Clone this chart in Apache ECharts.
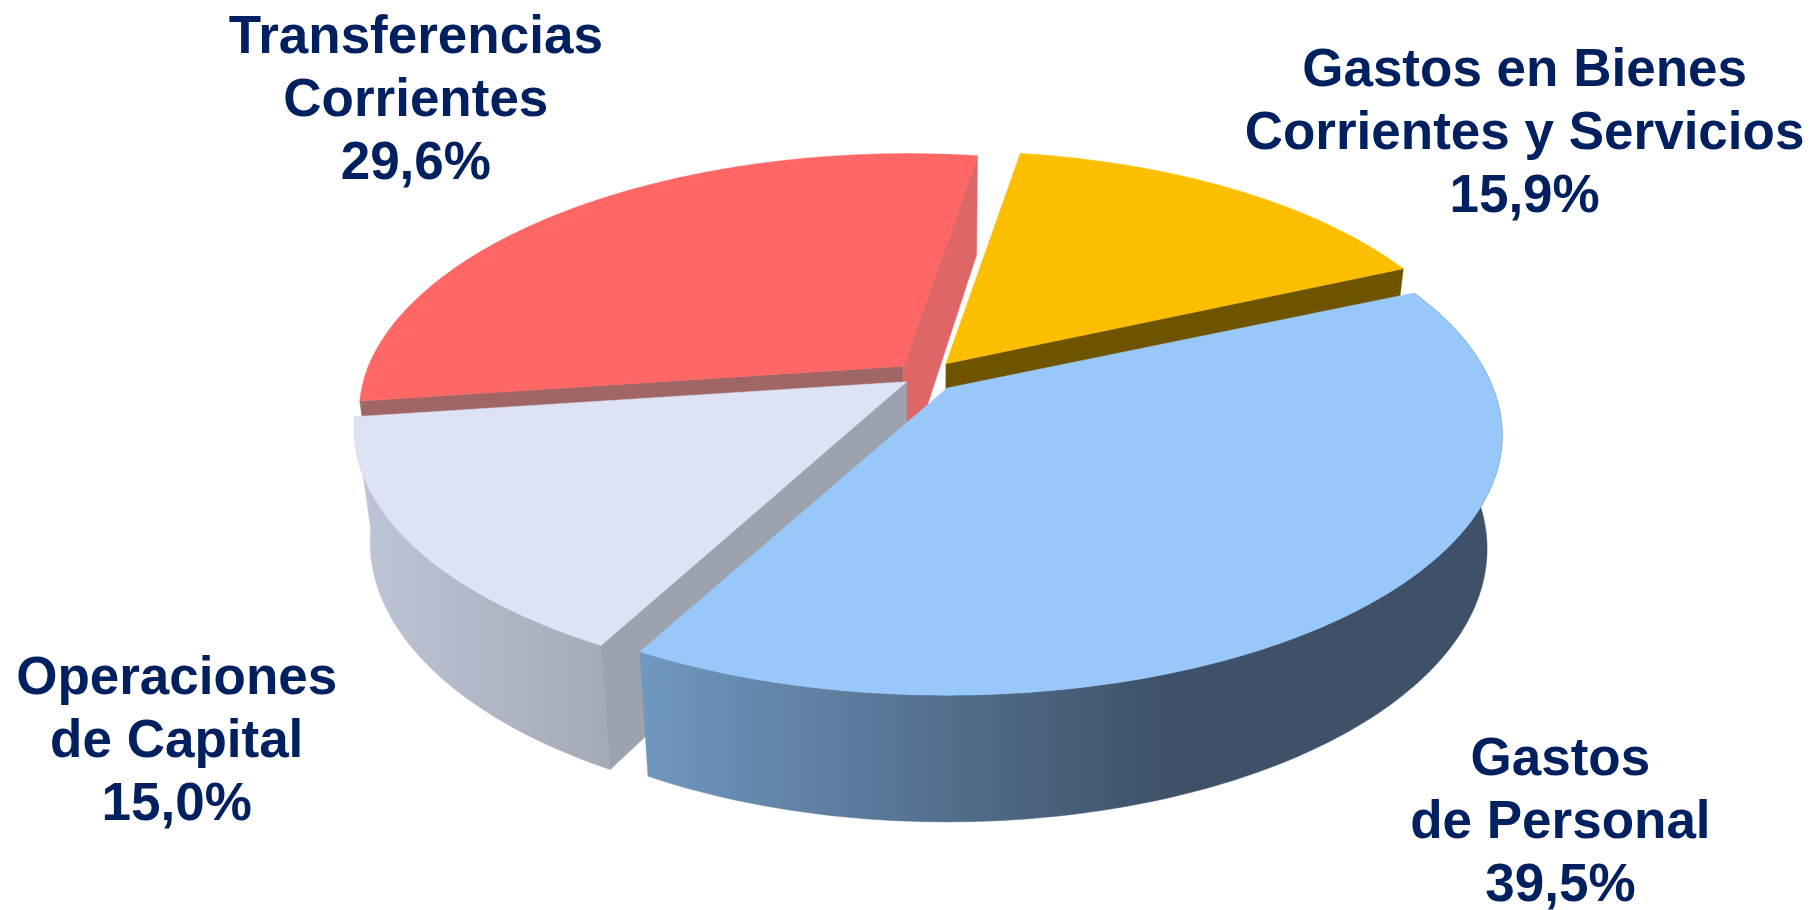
<!DOCTYPE html>
<html>
<head>
    <meta charset="utf-8">
    <title>Gastos</title>
    <script src="https://cdn.jsdelivr.net/npm/echarts@6/dist/echarts.min.js"></script>
    <style>
        html, body { margin: 0; padding: 0; width: 100%; height: 100%; background: #fff; overflow: hidden; }
        #chart { width: 1811px; height: 910px; }
    </style>
</head>
<body>
<div id="chart"></div>
<script type="text/javascript">
    // clockwise from the right-hand cut of the pie
    var categories = ['Gastos\nde Personal', 'Operaciones\nde Capital', 'Transferencias\nCorrientes', 'Gastos en Bienes\nCorrientes y Servicios'];
    var shares = [39.5, 15.0, 29.6, 15.9];

    var topColors = ['#98C8FA', '#DDE3F5', '#FF6666', '#FBBF00'];

    // layout, measured on the 1568 wide picture and scaled up
    var S = 1811 / 1568;
    var apexes = [[820, 336], [785, 330.5], [782, 317], [819, 315]];
    var radiusScale = [0.995, 0.99, 0.975, 0.975];
    var labelPos = [[1351, 713], [153, 643], [360, 88], [1320, 116]];
    var drawOrder = [2, 3, 1, 0];
    var startDeg = -24;
    var Rx = 475, Ry = 217.5, persp = 0.182;

    var total = shares.reduce(function (a, b) { return a + b; }, 0);

    function rimPoint(i, deg) {
        var t = deg * Math.PI / 180;
        var w = 1 - persp * Math.sin(t);
        var x = radiusScale[i] * Rx * Math.cos(t) / w;
        var y = Ry * Math.sin(t) / w;
        // far side leans slightly to the right
        if (y < 0) {
            x -= 0.025 * y;
        }
        return [apexes[i][0] + x, apexes[i][1] + y];
    }
    // same point at the bottom of the disc, verticals converge a little
    function drop(p) {
        return [815 + (p[0] - 815) * 0.973, p[1] + 86 + 0.051 * (p[1] - 137)];
    }
    function scaled(pts) {
        return pts.map(function (p) { return [p[0] * S, p[1] * S]; });
    }
    function poly(pts, fill) {
        return {
            type: 'polygon',
            shape: {points: scaled(pts)},
            style: {fill: fill, stroke: fill, lineWidth: 0.5}
        };
    }
    function hGradient(x1, x2, stops) {
        return new echarts.graphic.LinearGradient(x1 * S, 0, x2 * S, 0, stops, true);
    }

    // only the faces that can be seen: outer wall, cut at the start, cut at the end
    var wallFills = [
        hGradient(553, 1010, [{offset: 0, color: '#7098C0'}, {offset: 1, color: '#3E5168'}]),
        hGradient(310, 522, [{offset: 0, color: '#BEC5D6'}, {offset: 1, color: '#A4AAB7'}]),
        null,
        null
    ];
    var startCutColors = [null, '#9CA2AE', '#A06565', null];
    var endCutColors = [null, null, '#DF6666', '#6F5400'];

    function sliceRange(i) {
        var from = startDeg;
        for (var k = 0; k < i; k++) {
            from += shares[k] / total * 360;
        }
        return [from, from + shares[i] / total * 360];
    }

    function renderSlice(params) {
        var i = drawOrder[params.dataIndex];
        var range = sliceRange(i);
        var apex = apexes[i];
        var rim = [];
        for (var d = range[0]; d < range[1]; d += 1) {
            rim.push(rimPoint(i, d));
        }
        rim.push(rimPoint(i, range[1]));
        var first = rim[0], last = rim[rim.length - 1];
        var children = [];

        if (wallFills[i]) {
            children.push(poly(rim.concat(rim.map(drop).reverse()), wallFills[i]));
        }
        if (startCutColors[i]) {
            children.push(poly([apex, first, drop(first), drop(apex)], startCutColors[i]));
        }
        if (endCutColors[i]) {
            children.push(poly([apex, last, drop(last), drop(apex)], endCutColors[i]));
        }
        children.push(poly([apex].concat(rim), topColors[i]));
        return {type: 'group', children: children};
    }

    function renderLabel(params) {
        var i = params.dataIndex;
        return {
            type: 'text',
            x: labelPos[i][0] * S,
            y: labelPos[i][1] * S,
            style: {
                text: categories[i] + '\n' + shares[i].toFixed(1).replace('.', ',') + '%',
                fill: '#002060',
                font: 'bold 53px "Liberation Sans"',
                lineHeight: 63,
                textAlign: 'center',
                textVerticalAlign: 'middle'
            }
        };
    }

    var myChart = echarts.init(document.getElementById('chart'));
    myChart.setOption({
        animation: false,
        backgroundColor: '#fff',
        series: [
            {
                type: 'custom',
                coordinateSystem: 'none',
                silent: true,
                data: drawOrder.map(function (i) { return shares[i]; }),
                renderItem: renderSlice
            },
            {
                type: 'custom',
                coordinateSystem: 'none',
                silent: true,
                data: shares,
                renderItem: renderLabel
            }
        ]
    });
</script>
</body>
</html>
